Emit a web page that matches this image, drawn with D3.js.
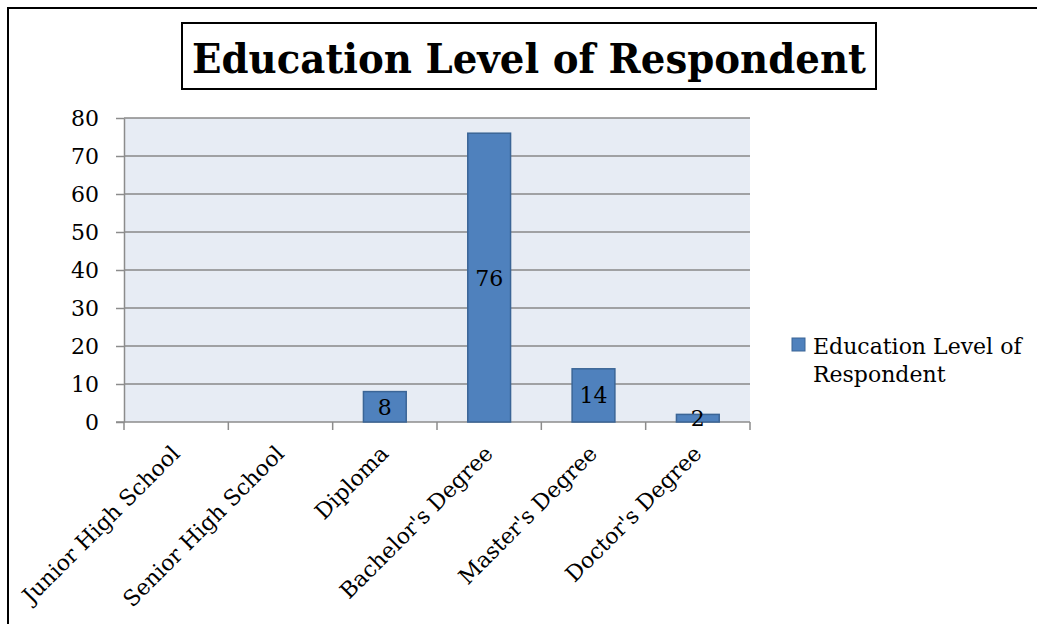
<!DOCTYPE html>
<html>
<head>
<meta charset="utf-8">
<script src="https://cdn.jsdelivr.net/npm/d3@7"></script>
<style>
  body { margin: 0; background: #fff; }
  svg { display: block; font-family: "DejaVu Serif", serif; }
  .grid line { stroke: #888; stroke-width: 1.5; }
  .axis path, .axis line { stroke: #8c8c8c; stroke-width: 1.5; }
  .axis text { fill: #000; font-size: 22px; }
</style>
</head>
<body>
<div id="chart"></div>
<script>
// data
const categories = ["Junior High School", "Senior High School", "Diploma", "Bachelor's Degree", "Master's Degree", "Doctor's Degree"];
const values = [null, null, 8, 76, 14, 2];
const yTicks = [0, 10, 20, 30, 40, 50, 60, 70, 80];
const titleText = "Education Level of Respondent";
const legendLines = ["Education Level of", "Respondent"];

const W = 1037, H = 624;
const plot = { left: 124, top: 118, right: 750, bottom: 422 };

const svg = d3.select("#chart").append("svg")
    .attr("width", W)
    .attr("height", H);

// outer frame (runs off the bottom/right edge)
svg.append("rect")
    .attr("x", 8).attr("y", 8)
    .attr("width", W + 20).attr("height", H + 20)
    .attr("fill", "none")
    .attr("stroke", "#000")
    .attr("stroke-width", 2);

// title with its box
svg.append("rect")
    .attr("x", 182).attr("y", 23)
    .attr("width", 694).attr("height", 66)
    .attr("fill", "#fff")
    .attr("stroke", "#000")
    .attr("stroke-width", 2);

svg.append("text")
    .attr("x", 529).attr("y", 73)
    .attr("text-anchor", "middle")
    .attr("font-weight", "bold")
    .attr("font-size", 41)
    .attr("textLength", 674)
    .attr("lengthAdjust", "spacingAndGlyphs")
    .text(titleText);

//----------------------------SCALES----------------------------//
const x = d3.scaleBand()
    .domain(categories)
    .range([plot.left, plot.right])
    .paddingInner(0.59)
    .paddingOuter(0.295);

const xOuter = d3.scaleBand()
    .domain(categories)
    .range([plot.left, plot.right]);

const y = d3.scaleLinear()
    .domain([0, 80])
    .range([plot.bottom, plot.top]);

// plot background
svg.append("rect")
    .attr("x", plot.left).attr("y", plot.top)
    .attr("width", plot.right - plot.left)
    .attr("height", plot.bottom - plot.top)
    .attr("fill", "#e7ecf4");

// gridlines
svg.append("g")
    .attr("class", "grid")
    .selectAll("line")
    .data(yTicks.filter(d => d > 0))
    .enter().append("line")
    .attr("x1", plot.left).attr("x2", plot.right)
    .attr("y1", d => y(d)).attr("y2", d => y(d));

//-----------------------------AXES-----------------------------//
svg.append("g")
    .attr("class", "axis")
    .attr("transform", "translate(" + plot.left + ",0)")
    .call(d3.axisLeft(y).tickValues(yTicks).tickSize(8).tickSizeOuter(0).tickPadding(17))
    .call(g => g.selectAll("text").attr("font-family", "DejaVu Serif"));

// x axis: ticks between categories
const boundaries = categories.map(c => xOuter(c)).concat([plot.right]);
const xg = svg.append("g").attr("class", "axis");
xg.append("line")
    .attr("x1", plot.left - 8).attr("x2", plot.right)
    .attr("y1", plot.bottom).attr("y2", plot.bottom);
xg.selectAll(".tk")
    .data(boundaries)
    .enter().append("line")
    .attr("x1", d => d).attr("x2", d => d)
    .attr("y1", plot.bottom).attr("y2", plot.bottom + 8);

xg.selectAll(".lbl")
    .data(categories)
    .enter().append("text")
    .attr("text-anchor", "end")
    .attr("transform", d => "translate(" + (xOuter(d) + xOuter.bandwidth() / 2 + 5) + "," + (plot.bottom + 33) + ") rotate(-45)")
    .text(d => d);

//----------------------------BARS------------------------------//
const bars = categories.map((c, i) => ({ cat: c, value: values[i] })).filter(d => d.value != null);

svg.selectAll(".bar")
    .data(bars)
    .enter().append("rect")
    .attr("class", "bar")
    .attr("x", d => x(d.cat))
    .attr("y", d => y(d.value))
    .attr("width", x.bandwidth())
    .attr("height", d => y(0) - y(d.value))
    .attr("fill", "#4f81bd")
    .attr("stroke", "#3b6596")
    .attr("stroke-width", 1.5);

svg.selectAll(".val")
    .data(bars)
    .enter().append("text")
    .attr("x", d => x(d.cat) + x.bandwidth() / 2)
    .attr("y", d => (y(d.value) + y(0)) / 2)
    .attr("dy", "0.36em")
    .attr("text-anchor", "middle")
    .attr("font-size", 22)
    .text(d => d.value);

//----------------------------LEGEND----------------------------//
const legend = svg.append("g").attr("transform", "translate(792,338)");
legend.append("rect")
    .attr("width", 13).attr("height", 13)
    .attr("fill", "#4f81bd")
    .attr("stroke", "#3b6596");
legend.selectAll("text")
    .data(legendLines)
    .enter().append("text")
    .attr("x", 21)
    .attr("y", (d, i) => 16 + i * 28)
    .attr("font-size", 22)
    .text(d => d);
</script>
</body>
</html>
